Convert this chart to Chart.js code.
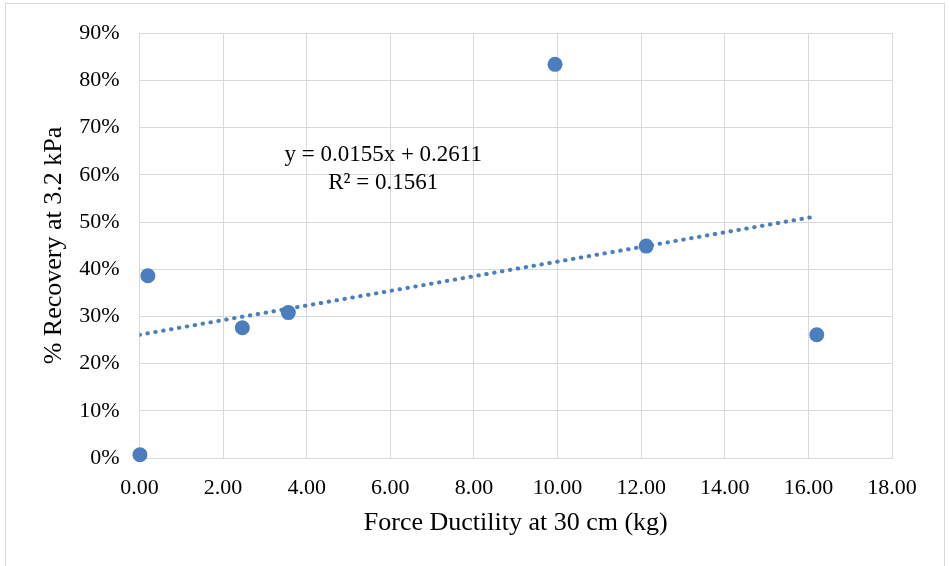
<!DOCTYPE html>
<html>
<head>
<meta charset="utf-8">
<script src="https://cdn.jsdelivr.net/npm/chart.js@4.4.1/dist/chart.umd.min.js"></script>
<style>
    html, body { margin: 0; padding: 0; background: #fff; overflow: hidden; }
    #wrap { position: relative; width: 949px; height: 566px; }
    #frame { position: absolute; left: 5px; top: 3px; width: 940px; height: 620px; border: 1px solid #d9d9d9; box-sizing: border-box; }
    canvas { position: absolute; left: 0; top: 0; }
</style>
</head>
<body>
<div id="wrap">
    <div id="frame"></div>
    <canvas id="chart" width="949" height="566"></canvas>
</div>
<script>
// points
const forceDuctility = [0.01, 0.2, 2.46, 3.56, 9.94, 12.12, 16.2];
const recovery = [0.007, 0.386, 0.276, 0.308, 0.834, 0.449, 0.261];

// linear trendline, ends as drawn
const trendX = [0, 16.2];
const trendY = [0.2611, 0.5122];
const trendLabel = ['y = 0.0155x + 0.2611', 'R\u00b2 = 0.1561'];

const xTicks = [0, 2, 4, 6, 8, 10, 12, 14, 16, 18];
const yTicks = [0, 0.1, 0.2, 0.3, 0.4, 0.5, 0.6, 0.7, 0.8, 0.9];

const BLUE = '#4a7ebf';
const GRID = '#d9d9d9';
const SERIF = '"Liberation Serif", "Times New Roman", serif';

// equation text, placed in data space
const trendTextPlugin = {
    id: 'trendText',
    afterDatasetsDraw(chart) {
        const { ctx, scales } = chart;
        const cx = scales.x.getPixelForValue(5.83);
        ctx.save();
        ctx.font = '23px ' + SERIF;
        ctx.fillStyle = '#000';
        ctx.textAlign = 'center';
        ctx.textBaseline = 'middle';
        ctx.fillText(trendLabel[0], cx, scales.y.getPixelForValue(0.641));
        ctx.fillText(trendLabel[1], cx, scales.y.getPixelForValue(0.583));
        ctx.restore();
    }
};

new Chart(document.getElementById('chart'), {
    type: 'scatter',
    data: {
        datasets: [
            {
                label: 'Recovery',
                data: forceDuctility.map((x, i) => ({ x: x, y: recovery[i] })),
                backgroundColor: BLUE,
                borderColor: BLUE,
                pointRadius: 7.5,
                pointBorderWidth: 0,
                clip: false,
                order: 0
            },
            {
                label: 'Linear',
                type: 'line',
                data: trendX.map((x, i) => ({ x: x, y: trendY[i] })),
                borderColor: BLUE,
                borderWidth: 4,
                borderDash: [0.5, 7.5],
                borderCapStyle: 'round',
                pointRadius: 0,
                fill: false,
                order: 1
            }
        ]
    },
    options: {
        responsive: false,
        animation: false,
        layout: { padding: { left: 0, top: 32, right: 57, bottom: 0 } },
        plugins: {
            legend: { display: false },
            tooltip: { enabled: false }
        },
        scales: {
            x: {
                type: 'linear',
                min: 0,
                max: 18,
                afterFit: s => { s.height = 108; },
                afterBuildTicks: s => { s.ticks = xTicks.map(v => ({ value: v })); },
                grid: { color: GRID, lineWidth: 1, drawTicks: false },
                border: { color: GRID, width: 1 },
                ticks: {
                    padding: 17,
                    color: '#000',
                    font: { family: SERIF, size: 22 },
                    callback: v => v.toFixed(2)
                },
                title: {
                    display: true,
                    text: 'Force Ductility at 30 cm (kg)',
                    color: '#000',
                    font: { family: SERIF, size: 26 },
                    padding: { top: 0, bottom: 27 }
                }
            },
            y: {
                type: 'linear',
                min: 0,
                max: 0.9,
                afterFit: s => { s.width = 139.5; },
                afterBuildTicks: s => { s.ticks = yTicks.map(v => ({ value: v })); },
                grid: { color: GRID, lineWidth: 1, drawTicks: false },
                border: { color: GRID, width: 1 },
                ticks: {
                    padding: 20,
                    color: '#000',
                    font: { family: SERIF, size: 22 },
                    callback: v => Math.round(v * 100) + '%'
                },
                title: {
                    display: true,
                    text: '% Recovery at 3.2 kPa',
                    color: '#000',
                    font: { family: SERIF, size: 26 },
                    padding: { top: 39, bottom: 0 }
                }
            }
        }
    },
    plugins: [trendTextPlugin]
});
</script>
</body>
</html>
